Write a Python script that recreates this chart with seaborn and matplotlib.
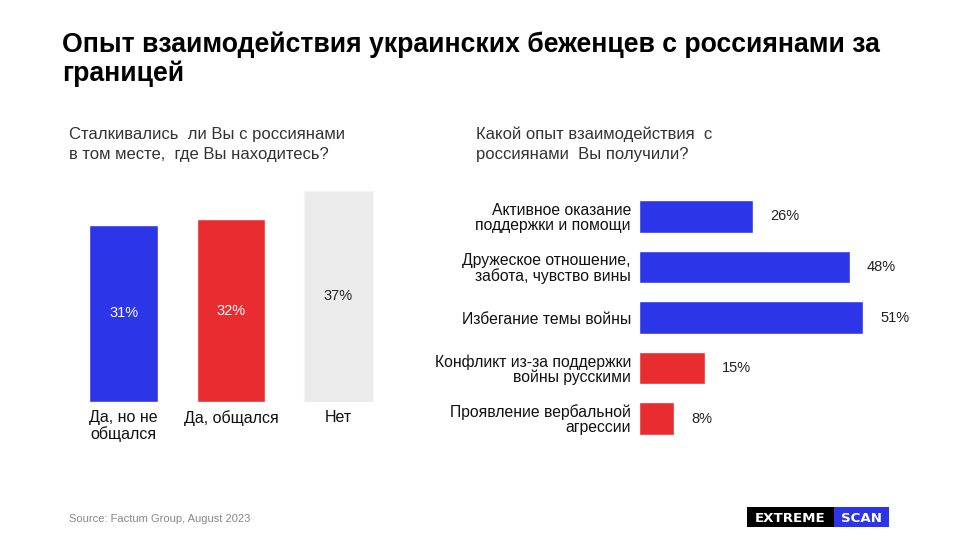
import matplotlib
matplotlib.use('Agg')
import matplotlib.pyplot as plt
import seaborn as sns
import pandas as pd

sns.set_theme(style='white')
plt.rcParams['font.family'] = ['Liberation Sans', 'DejaVu Sans']

# данные: левый график
met_labels = ['Да, но не\nобщался', 'Да, общался', 'Нет']
met_values = [31, 32, 37]
met_colors = ['#2d35e8', '#e82c2f', '#ebebeb']
met_text_colors = ['white', 'white', '#222222']

# данные: правый график
exp_labels = ['Активное оказание\nподдержки и помощи',
              'Дружеское отношение,\nзабота, чувство вины',
              'Избегание темы войны',
              'Конфликт из-за поддержки\nвойны русскими',
              'Проявление вербальной\nагрессии']
exp_values = [26, 48, 51, 15, 8]
exp_colors = ['#2d35e8', '#2d35e8', '#2d35e8', '#e82c2f', '#e82c2f']

W, H = 960, 540
fig = plt.figure(figsize=(9.6, 5.4), dpi=100)
fig.patch.set_facecolor('white')


def px(x, y):
    return x / W, 1 - y / H


# заголовок (каждая строка отдельно, по базовой линии)
fig.text(*px(62, 52.5), 'Опыт взаимодействия украинских беженцев с россиянами за',
         fontsize=19.2, fontweight='bold', color='black', va='baseline')
fig.text(*px(62, 80.5), 'границей',
         fontsize=19.2, fontweight='bold', color='black', va='baseline')

# подзаголовки
fig.text(*px(69, 139.5), 'Сталкивались  ли Вы с россиянами',
         fontsize=12, color='#333333', va='baseline')
fig.text(*px(69, 159.5), 'в том месте,  где Вы находитесь?',
         fontsize=12, color='#333333', va='baseline')
fig.text(*px(476, 139.5), 'Какой опыт взаимодействия  с',
         fontsize=12, color='#333333', va='baseline')
fig.text(*px(476, 159.5), 'россиянами  Вы получили?',
         fontsize=12, color='#333333', va='baseline')

# левый график
ax1 = fig.add_axes([70 / W, (H - 402) / H, 322 / W, 228.4 / H])
df1 = pd.DataFrame({'cat': met_labels, 'val': met_values})
sns.barplot(data=df1, x='cat', y='val', hue='cat', palette=met_colors,
            legend=False, width=0.64, ax=ax1, saturation=1)
for i, p in enumerate(ax1.patches):
    if i == 2:
        p.set_edgecolor('#f5f5f5')
        p.set_linewidth(1)
    ax1.text(p.get_x() + p.get_width() / 2, p.get_height() / 2, f'{met_values[i]}%',
             ha='center', va='center', fontsize=10.5, color=met_text_colors[i])
ax1.set_ylim(0, 40)
ax1.set_xlim(-0.5, 2.5)
ax1.set_xlabel('')
ax1.set_ylabel('')
ax1.set_yticks([])
ax1.tick_params(axis='x', length=0, pad=6, labelsize=11.5, labelcolor='#111111')
for lbl in ax1.get_xticklabels():
    lbl.set_linespacing(1.05)
sns.despine(ax=ax1, left=True, bottom=True)

# правый график
ax2 = fig.add_axes([639 / W, (H - 443.8) / H, 264 / W, 252.6 / H])
df2 = pd.DataFrame({'cat': exp_labels, 'val': exp_values})
sns.barplot(data=df2, y='cat', x='val', hue='cat', palette=exp_colors,
            legend=False, width=0.65, ax=ax2, saturation=1, orient='h')
for i, p in enumerate(ax2.patches):
    ax2.text(p.get_width() + 3.8, p.get_y() + p.get_height() / 2, f'{exp_values[i]}%',
             ha='left', va='center', fontsize=10.5, color='#222222')
ax2.set_xlim(0, 60)
ax2.set_xlabel('')
ax2.set_ylabel('')
ax2.set_xticks([])
ax2.tick_params(axis='y', length=0, pad=5.8, labelsize=11.3, labelcolor='#111111')
for lbl in ax2.get_yticklabels():
    lbl.set_linespacing(1.0)
sns.despine(ax=ax2, left=True, bottom=True)

# источник
fig.text(*px(69, 522), 'Source: Factum Group, August 2023', fontsize=8,
         color='#888888', va='baseline')

# логотип
fig.patches.append(plt.Rectangle(px(747, 527), 87 / W, 20 / H, transform=fig.transFigure,
                                 facecolor='black', edgecolor='none'))
fig.patches.append(plt.Rectangle(px(834, 527), 55 / W, 20 / H, transform=fig.transFigure,
                                 facecolor='#2d35e8', edgecolor='none'))
fig.text(*px(790.5, 522), 'EXTREME', fontsize=9.6, fontweight='bold', color='white',
         ha='center', va='baseline', family=['DejaVu Sans'])
fig.text(*px(861.5, 522), 'SCAN', fontsize=9.6, fontweight='bold', color='white',
         ha='center', va='baseline', family=['DejaVu Sans'])

fig.savefig('out.png', dpi=100, facecolor='white')
